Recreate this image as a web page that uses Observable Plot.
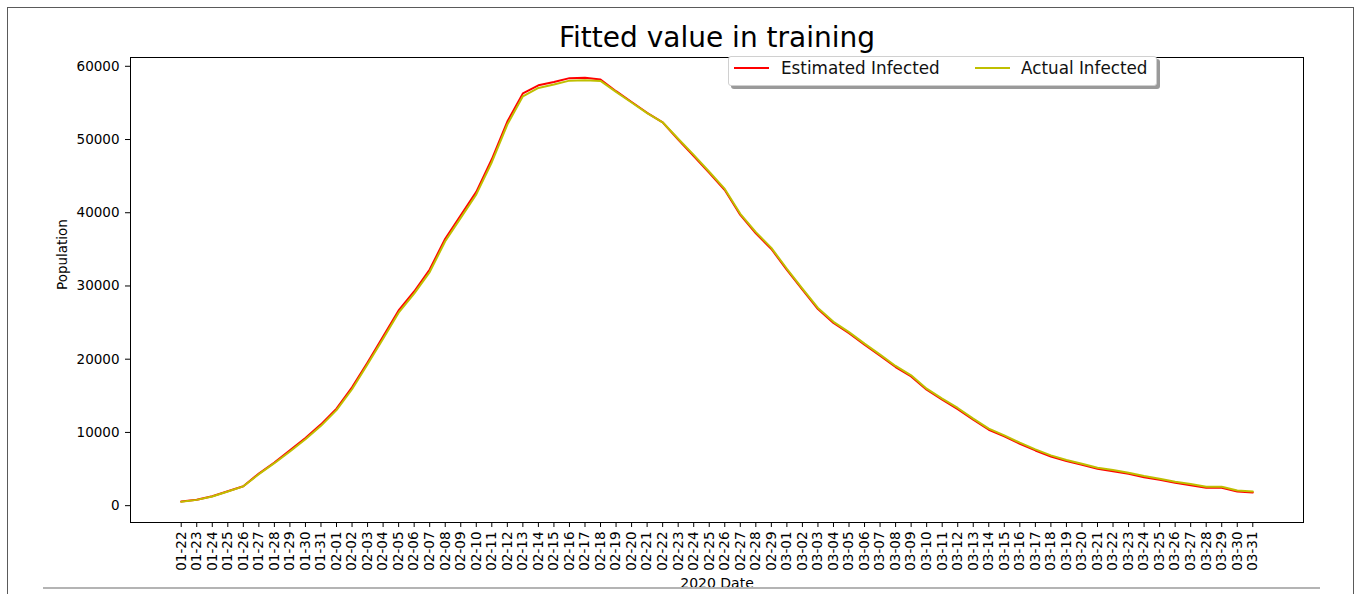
<!DOCTYPE html>
<html><head><meta charset="utf-8">
<script src="https://cdn.jsdelivr.net/npm/d3@7"></script>
<script src="https://cdn.jsdelivr.net/npm/@observablehq/plot@0.6"></script>
<style>
html,body{margin:0;padding:0;background:#fff;}
#wrap{position:relative;width:1360px;height:594px;overflow:hidden;font-family:"DejaVu Sans",sans-serif;background:#fff;}
#border{position:absolute;left:7px;top:7px;width:1347px;height:640px;border:1.5px solid #5a5a5a;box-sizing:border-box;}
#chart{position:absolute;left:0;top:0;}
#below{position:absolute;left:9px;top:589px;width:1344px;height:10px;background:#fff;}
#hr{position:absolute;left:43px;top:587px;width:1277px;height:2px;background:#b4b4b4;}
#legend{position:absolute;left:728px;top:56px;width:429px;height:30px;background:#fff;border:1px solid #d0d0d0;border-radius:3px;box-shadow:3px 3px 0 #9a9a9a;box-sizing:border-box;}
.sw{position:absolute;top:10px;height:2px;}
.lt{position:absolute;top:-1px;line-height:24px;font-size:16.8px;color:#111;white-space:nowrap;}
</style>
</head>
<body>
<div id="wrap">
  <div id="border"></div>
  <div id="chart"></div>
  <div id="legend">
    <div class="sw" style="left:5px;width:35px;background:#ff0000;"></div>
    <span class="lt" style="left:52px;">Estimated Infected</span>
    <div class="sw" style="left:246px;width:35px;background:#bfbf00;"></div>
    <span class="lt" style="left:292px;">Actual Infected</span>
  </div>
  <div id="below"></div>
  <div id="hr"></div>
</div>
<script>
const dates = ["01-22","01-23","01-24","01-25","01-26","01-27","01-28","01-29","01-30","01-31",
  "02-01","02-02","02-03","02-04","02-05","02-06","02-07","02-08","02-09","02-10",
  "02-11","02-12","02-13","02-14","02-15","02-16","02-17","02-18","02-19","02-20",
  "02-21","02-22","02-23","02-24","02-25","02-26","02-27","02-28","02-29",
  "03-01","03-02","03-03","03-04","03-05","03-06","03-07","03-08","03-09","03-10",
  "03-11","03-12","03-13","03-14","03-15","03-16","03-17","03-18","03-19","03-20",
  "03-21","03-22","03-23","03-24","03-25","03-26","03-27","03-28","03-29","03-30","03-31"];

const estimated = [560, 800, 1280, 1960, 2660, 4380, 5900, 7550, 9250, 11100,
  13250, 16150, 19550, 23100, 26650, 29250, 32250, 36450, 39650, 42850,
  47300, 52450, 56300, 57400, 57850, 58380, 58420, 58200, 56600, 55120,
  53650, 52350, 50000, 47750, 45450, 43100, 39700, 37200, 35050,
  32200, 29500, 26850, 24950, 23550, 21970, 20470, 18930, 17650, 15830,
  14470, 13190, 11730, 10370, 9450, 8450, 7540, 6720, 6080, 5580,
  5030, 4710, 4350, 3890, 3530, 3120, 2800, 2430, 2430, 1930, 1800];

const actual = [546, 790, 1260, 1940, 2640, 4300, 5800, 7400, 9080, 10900,
  13040, 15900, 19300, 22800, 26350, 28950, 31900, 36100, 39300, 42500,
  46900, 52050, 55900, 57040, 57500, 58040, 58090, 58000, 56500, 55050,
  53600, 52350, 50100, 47900, 45600, 43250, 39850, 37350, 35200,
  32350, 29650, 27000, 25100, 23700, 22120, 20620, 19080, 17800, 15980,
  14620, 13340, 11880, 10520, 9600, 8600, 7690, 6870, 6230, 5730,
  5180, 4860, 4500, 4040, 3680, 3270, 2950, 2580, 2580, 2080, 1940];

const yTicks = [0, 10000, 20000, 30000, 40000, 50000, 60000];
const title = "Fitted value in training";
const yLabel = "Population";
const xLabel = "2020 Date";

const rows = dates.map((d, i) => ({date: d, est: estimated[i], act: actual[i]}));

const chart = Plot.plot({
  width: 1360, height: 594,
  marginTop: 57, marginBottom: 72, marginLeft: 130, marginRight: 57,
  style: {fontFamily: '"DejaVu Sans", sans-serif', fontSize: "13.5px", color: "#000", background: "transparent", overflow: "visible"},
  x: {type: "point", domain: dates, padding: 3.265},
  y: {domain: [-2300, 61200]},
  marks: [
    Plot.axisY(yTicks, {tickSize: 5, tickPadding: 6, tickFormat: d3.format("d"), label: null}),
    Plot.axisX(dates, {tickSize: 5, tickPadding: 4, tickRotate: -90, label: null}),
    Plot.line(rows, {x: "date", y: "est", stroke: "#ff0000", strokeWidth: 2}),
    Plot.line(rows, {x: "date", y: "act", stroke: "#bfbf00", strokeWidth: 2}),
    Plot.frame({stroke: "#000", strokeWidth: 1}),
    Plot.text([title], {frameAnchor: "top", dy: -19, fontSize: 28, lineAnchor: "middle", fill: "#000"}),
    Plot.text([yLabel], {frameAnchor: "left", dx: -68, rotate: -90, fontSize: 13.5, fill: "#000"}),
    Plot.text([xLabel], {frameAnchor: "bottom", dy: 65, fontSize: 14, fill: "#000"})
  ]
});
document.getElementById("chart").appendChild(chart);
</script>
</body></html>
